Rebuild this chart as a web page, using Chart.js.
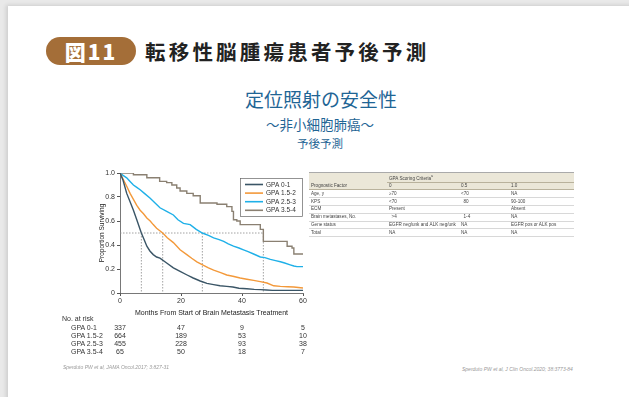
<!DOCTYPE html>
<html><head><meta charset="utf-8">
<script src="https://cdn.jsdelivr.net/npm/chart.js@4.4.1/dist/chart.umd.min.js"></script>
<style>
html,body{margin:0;padding:0;width:629px;height:397px;overflow:hidden;background:#e9e9e9;font-family:"Noto Sans","Liberation Sans",sans-serif;}
#panel{position:absolute;left:8px;top:6px;width:640px;height:420px;background:#fff;box-shadow:-2px -1px 4px rgba(0,0,0,0.12);}
#pill{position:absolute;left:46px;top:37px;width:90px;height:28px;border-radius:14px;background:#a46e38;color:#fff;font-family:"Noto Sans CJK JP";font-weight:900;font-size:21px;line-height:28px;text-align:center;letter-spacing:2px;}
#title{position:absolute;left:145px;top:36px;font-family:"Noto Sans CJK JP";font-weight:700;font-size:20.5px;letter-spacing:3.2px;color:#222;line-height:30px;white-space:nowrap;}
.sub{position:absolute;left:0;width:640px;text-align:center;color:#1f6595;font-family:"Noto Sans CJK JP";white-space:nowrap;}
#chartbox{position:absolute;left:92px;top:166px;width:218px;height:151px;}
#tbl{position:absolute;left:309px;top:172px;width:265px;border-collapse:collapse;font-family:"Liberation Sans Narrow","Liberation Sans",sans-serif;font-size:4.6px;color:#444;}
#tbl td{padding:0 2px;height:6.8px;line-height:6px;border-bottom:0.6px solid #d8d8d8;white-space:nowrap;}
#tbl tr.h td{background:#ebe7d8;border-bottom:0.6px solid #b9b29c;}
.risk{position:absolute;font-family:"Liberation Sans Narrow","Liberation Sans",sans-serif;font-size:7px;color:#333;white-space:nowrap;line-height:8px;}
.foot{position:absolute;font-family:"Liberation Sans Narrow","Liberation Sans",sans-serif;font-style:italic;font-size:5px;color:#999;white-space:nowrap;}
</style></head>
<body>
<div id="panel"></div>
<div id="pill">図11</div>
<div id="title">転移性脳腫瘍患者予後予測</div>
<div class="sub" style="top:86px;font-size:19px;line-height:26px;left:1px;">定位照射の安全性</div>
<div class="sub" style="top:115px;font-size:13.5px;line-height:18px;">〜非小細胞肺癌〜</div>
<div class="sub" style="top:135px;font-size:11.5px;line-height:16px;">予後予測</div>
<div id="chartbox"><canvas id="c"></canvas></div>
<table id="tbl"></table>
<div id="riskwrap"></div>
<div class="foot" style="left:63px;top:364px;">Sperduto PW et al, JAMA Oncol.2017; 3:827-31</div>
<div class="foot" style="left:462px;top:366px;">Sperduto PW et al, J Clin Oncol.2020; 38:3773-84</div>
<script>
// ---- data ----
const seriesNames = ["GPA 0-1","GPA 1.5-2","GPA 2.5-3","GPA 3.5-4"];
const gpa01Months = [0,1,2.2,3.3,4.4,5.5,6.6,7,8,8.8,9.8,10.9,12,13.1,15.3,17.5,19.7,22,24,26.3,28.5,30.7,32.8,35,37,39,41.6,44,46,48,50,55,60];
const gpa01Surv   = [1,0.94,0.83,0.76,0.69,0.61,0.53,0.50,0.44,0.39,0.35,0.32,0.30,0.29,0.25,0.21,0.18,0.15,0.125,0.10,0.08,0.07,0.06,0.055,0.05,0.04,0.035,0.03,0.028,0.025,0.022,0.022,0.022];
const gpa152Months = [0,1,2.2,3.3,4.4,5.5,6.6,7.7,8.8,9.9,10.9,12,14,15.5,17.5,19.7,21.9,23.5,25.2,27.4,29,30.7,33,35,37,39.4,41.6,43.8,46,48.2,50.4,52.6,55,57,60];
const gpa152Surv   = [1,0.95,0.89,0.83,0.78,0.73,0.69,0.66,0.625,0.60,0.57,0.54,0.50,0.46,0.42,0.36,0.32,0.29,0.26,0.23,0.21,0.19,0.17,0.15,0.14,0.125,0.115,0.105,0.095,0.083,0.06,0.055,0.052,0.05,0.042];
const gpa253Months = [0,1,2.2,3.3,4.4,5.5,6.6,8,9.9,11.5,13.1,15.3,17.5,19,20.8,23,25,27,29,30.7,32.5,34,35.5,37.2,39,40.5,42,43.8,46,47.5,49.3,51,52.6,54,55.8,57,58,60];
const gpa253Surv   = [1,0.98,0.96,0.93,0.90,0.88,0.86,0.83,0.79,0.75,0.71,0.68,0.65,0.61,0.58,0.57,0.53,0.50,0.48,0.46,0.445,0.43,0.41,0.39,0.375,0.36,0.345,0.325,0.30,0.295,0.28,0.27,0.26,0.25,0.235,0.225,0.22,0.22];
const gpa354Months = [0,4.4,8.8,13,15.3,17,18.6,19.7,21.9,24,26.3,31.8,35,36.7,37.2,38.3,39.4,43.8,46,47,53.7,54.8,56.4,57,60];
const gpa354Surv   = [1,0.985,0.96,0.93,0.92,0.9,0.875,0.85,0.83,0.81,0.75,0.74,0.72,0.68,0.61,0.6,0.57,0.57,0.53,0.43,0.43,0.39,0.375,0.325,0.325];
const medianMonths = [7,14,27,47];
const medianLevel = 0.5;
const xTicks = [0,20,40,60];
const yTicks = [0,0.2,0.4,0.6,0.8,1.0];
const yTickLabels = ["0","0.2","0.4","0.6","0.8","1.0"];
const riskTimes = [0,20,40,60];
const riskGpa01  = [337,47,9,5];
const riskGpa152 = [664,189,53,10];
const riskGpa253 = [455,228,93,38];
const riskGpa354 = [65,50,18,7];
const tblHeader = ["Prognostic Factor","0","0.5","1.0"];
const tblFactors = ["Age, y","KPS","ECM","Brain metastases, No.","Gene status","Total"];
const tblCol0  = ["≥70","<70","Present","  >4","EGFR neg/unk and ALK neg/unk","NA"];
const tblCol05 = ["<70","  80","","  1-4","NA","NA"];
const tblCol1  = ["NA","90-100","Absent","NA","EGFR pos or ALK pos","NA"];

const colors = ["#3a5566","#f3993a","#1fb0e8","#8a8072"];
const pts = (xs, ys) => xs.map((x,i)=>({x, y: ys[i]}));
const allMonths = [gpa01Months,gpa152Months,gpa253Months,gpa354Months];
const allSurv = [gpa01Surv,gpa152Surv,gpa253Surv,gpa354Surv];

// ---- table ----
(function(){
  const t = document.getElementById('tbl');
  let h = '<tr class="h"><td style="width:74px"></td><td colspan="3">GPA Scoring Criteria<sup style="font-size:3.5px">a</sup></td></tr>';
  h += '<tr class="h">' + tblHeader.map((s,i)=>'<td' + (i==1?' style="width:68px"':i==2?' style="width:46px"':'') + '>' + s + '</td>').join('') + '</tr>';
  tblFactors.forEach((f,i)=>{
    h += '<tr><td>'+f+'</td><td>'+tblCol0[i].replace(/ /g,'&nbsp;')+'</td><td>'+tblCol05[i].replace(/ /g,'&nbsp;')+'</td><td>'+tblCol1[i]+'</td></tr>';
  });
  t.innerHTML = h;
  t.querySelector('tr').firstChild.style.borderBottom='0.6px solid #ebe7d8';
  t.style.borderTop='0.8px solid #aaa';
})();

const FONT = '"Liberation Sans Narrow","Liberation Sans",sans-serif';

const medianPlugin = {
  id:'medianLines',
  beforeDatasetsDraw(chart){
    const {ctx, scales:{x,y}} = chart;
    ctx.save();
    ctx.strokeStyle = '#8a8a8a'; ctx.lineWidth = 0.8; ctx.setLineDash([1.5,1.5]);
    const yp = y.getPixelForValue(medianLevel);
    ctx.beginPath();
    ctx.moveTo(x.getPixelForValue(0), yp);
    ctx.lineTo(x.getPixelForValue(Math.max(...medianMonths)), yp);
    medianMonths.forEach(m=>{
      const xp = x.getPixelForValue(m);
      ctx.moveTo(xp, yp); ctx.lineTo(xp, y.getPixelForValue(0));
    });
    ctx.stroke();
    ctx.restore();
  }
};
const legendPlugin = {
  id:'boxLegend',
  afterDatasetsDraw(chart){
    const {ctx, chartArea} = chart;
    const w = 63, hgt = 39;
    const left = chartArea.right - w, top = chartArea.top + 5;
    ctx.save();
    ctx.fillStyle = '#fff';
    ctx.fillRect(left, top, w, hgt);
    ctx.strokeStyle = '#666'; ctx.lineWidth = 0.7;
    ctx.strokeRect(left+0.5, top+0.5, w-1, hgt-1);
    ctx.font = '6.5px ' + FONT; ctx.textBaseline = 'middle'; ctx.fillStyle = '#333';
    chart.data.datasets.forEach((ds,i)=>{
      const yy = top + 6.5 + i*8.6;
      ctx.strokeStyle = ds.borderColor; ctx.lineWidth = 1.6;
      ctx.beginPath(); ctx.moveTo(left+5, yy); ctx.lineTo(left+23, yy); ctx.stroke();
      ctx.fillText(ds.label, left+26, yy+0.3);
    });
    ctx.restore();
  }
};

const chart = new Chart(document.getElementById('c'), {
  type:'line',
  data:{datasets: seriesNames.map((n,i)=>({
    label:n, data: pts(allMonths[i], allSurv[i]), borderColor: colors[i], backgroundColor: colors[i],
    borderWidth: 1.4, pointRadius:0, stepped: i===3 ? true : false, tension:0
  }))},
  options:{
    responsive:true, maintainAspectRatio:false, animation:false,
    layout:{padding:{top:7,right:7,left:0,bottom:0}},
    plugins:{legend:{display:false}, tooltip:{enabled:false}},
    scales:{
      x:{type:'linear', min:0, max:60,
        afterBuildTicks(s){ s.ticks = xTicks.map(v=>({value:v})); },
        afterFit(s){ s.height = 24; },
        grid:{drawOnChartArea:false, drawTicks:true, tickLength:3, color:'#555'},
        border:{color:'#555', width:0.8},
        ticks:{font:{size:7, family:FONT}, color:'#333', padding:1, maxRotation:0},
        title:{display:true, text:'Months From Start of Brain Metastasis Treatment', font:{size:7, family:FONT}, color:'#222', padding:{top:1,bottom:0}}
      },
      y:{type:'linear', min:0, max:1,
        afterBuildTicks(s){ s.ticks = yTicks.map(v=>({value:v})); },
        afterFit(s){ s.width = 28; },
        grid:{drawOnChartArea:false, drawTicks:true, tickLength:3, color:'#555'},
        border:{color:'#555', width:0.8},
        ticks:{font:{size:7, family:FONT}, color:'#333', padding:2,
          callback:(v,i)=> yTickLabels[yTicks.indexOf(v)] ?? ''},
        title:{display:true, text:'Proportion Surviving', font:{size:6.5, family:FONT}, color:'#222', padding:{top:6,bottom:0}}
      }
    }
  },
  plugins:[medianPlugin, legendPlugin]
});

// ---- number at risk table, aligned with the x scale ----
(function(){
  const wrap = document.getElementById('riskwrap');
  const box = document.getElementById('chartbox');
  const bx = box.offsetLeft;
  const xs = chart.scales.x;
  const rows = [riskGpa01,riskGpa152,riskGpa253,riskGpa354];
  let html = '<div class="risk" style="left:62px;top:315px;">No. at risk</div>';
  rows.forEach((r,i)=>{
    const top = 323.5 + i*8.3;
    html += '<div class="risk" style="left:71px;top:'+top+'px;">'+seriesNames[i]+'</div>';
    r.forEach((v,j)=>{
      const px = bx + xs.getPixelForValue(riskTimes[j]);
      html += '<div class="risk" style="left:'+(px-15)+'px;width:30px;text-align:center;top:'+top+'px;">'+v+'</div>';
    });
  });
  wrap.innerHTML = html;
})();
</script>
</body></html>
